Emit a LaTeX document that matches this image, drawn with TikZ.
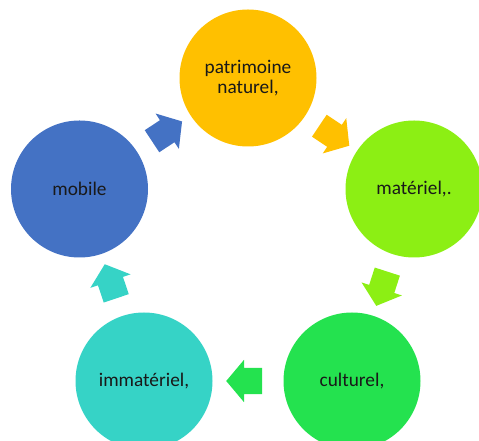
\documentclass[tikz,border=0pt]{standalone}
\usepackage{fontspec}
\setmainfont{Carlito}
\usetikzlibrary{shapes.arrows}

\definecolor{patyellow}{HTML}{FFC000}
\definecolor{matgreen}{HTML}{8CEF14}
\definecolor{culgreen}{HTML}{24E24F}
\definecolor{immteal}{HTML}{36D3C6}
\definecolor{mobblue}{HTML}{4472C4}

\tikzset{
  disc/.style={circle, fill=#1, minimum size=137pt, inner sep=0pt, align=center,
    font=\fontsize{19.3}{20}\selectfont, text=black!90},
  blockarrow/.style={single arrow, draw=none, fill=#1, minimum height=36pt,
    inner xsep=0pt, inner ysep=13pt, single arrow head extend=8pt,
    single arrow tip angle=100, sloped, allow upside down, pos=0.475}
}

\begin{document}
\begin{tikzpicture}[x=1pt, y=1pt]
  \useasboundingbox (0,0) rectangle (479,441);
  \clip (0,0) rectangle (479,441);

  % the five circles
  \node[disc=patyellow] (pat) at (248,363) {patrimoine\\naturel,};
  \node[disc=matgreen]  (mat) at (414,252) {matériel,.};
  \node[disc=culgreen]  (cul) at (352,60)  {culturel,};
  \node[disc=immteal]   (imm) at (144,60)  {immatériel,};
  \node[disc=mobblue]   (mob) at (79.5,252) {mobile};

  % block arrows between them
  \path (pat) -- node[blockarrow=patyellow] {} (mat);
  \path (mat) -- node[blockarrow=matgreen]  {} (cul);
  \path (cul) -- node[blockarrow=culgreen]  {} (imm);
  \path (imm) -- node[blockarrow=immteal]   {} (mob);
  \path (mob) -- node[blockarrow=mobblue]   {} (pat);
\end{tikzpicture}
\end{document}
